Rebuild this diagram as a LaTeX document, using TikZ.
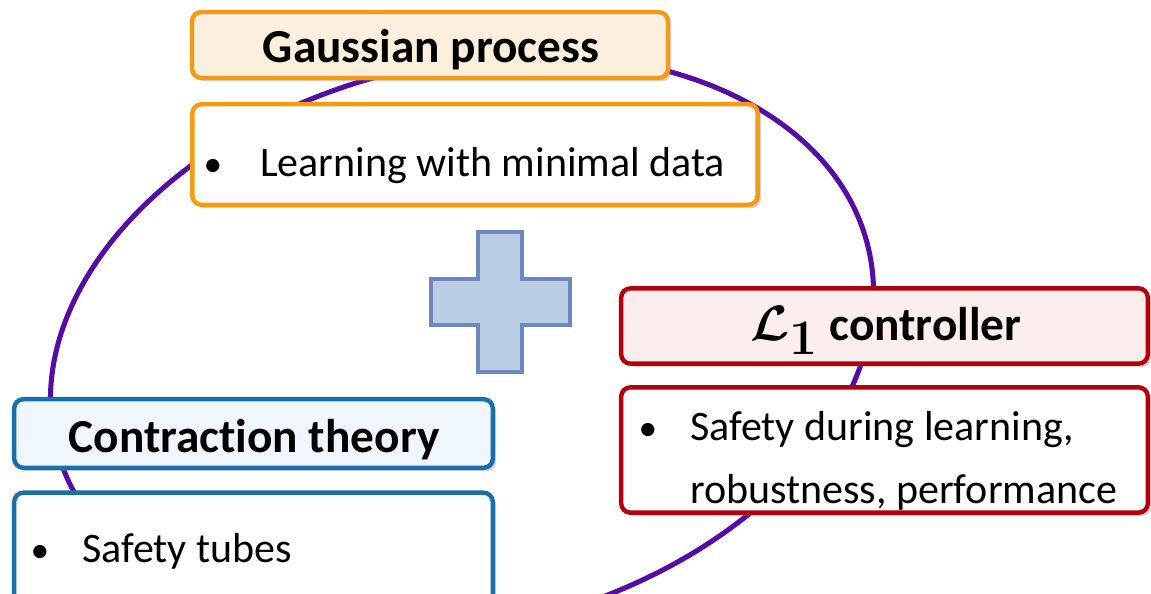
\documentclass[tikz,border=0pt]{standalone}
\usepackage{fontspec}
\setmainfont{Carlito}[Ligatures=NoCommon]
\usetikzlibrary{shadows}
\definecolor{ellc}{RGB}{84,12,164}
\definecolor{gporange}{RGB}{246,154,18}
\definecolor{gpfill}{RGB}{253,239,222}
\definecolor{lred}{RGB}{180,0,10}
\definecolor{lfill}{RGB}{253,238,238}
\definecolor{cblue}{RGB}{25,110,172}
\definecolor{cfill}{RGB}{240,246,253}
\definecolor{plusfill}{RGB}{185,205,229}
\definecolor{plusdraw}{RGB}{111,135,192}
\tikzset{
  box/.style={draw, line width=3.3pt, rounded corners=7pt, inner sep=0pt,
    drop shadow={shadow xshift=2.5pt, shadow yshift=-2.5pt, opacity=0.35}},
  titletext/.style={inner sep=0pt, anchor=base, font=\fontsize{35.5}{40}\selectfont\bfseries},
  bodytext/.style={inner sep=0pt, anchor=base west, font=\fontsize{31.5}{36}\selectfont},
  bul/.style={inner sep=0pt, anchor=base, font=\fontsize{28}{32}\selectfont}
}
\begin{document}
\begin{tikzpicture}[x=0.75pt,y=-0.75pt]
\useasboundingbox (0,0) rectangle (1151,593);
\clip (0,0) rectangle (1151,593);
% cycle ellipse
\draw[ellc, line width=3.8pt, rotate around={13.8:(462,346)}] (462,346) ellipse [x radius=418, y radius=282];
% plus sign
\draw[plusdraw, fill=plusfill, line width=3.6pt]
  (478,232) -- (522,232) -- (522,279) -- (570,279) -- (570,325) -- (522,325)
  -- (522,372) -- (478,372) -- (478,325) -- (431,325) -- (431,279) -- (478,279) -- cycle;
% Gaussian process
\node[box, draw=gporange, fill=gpfill, minimum width=357pt, minimum height=49.5pt] (gpbox) at (430,45) {};
\node[box, draw=gporange, fill=white, minimum width=424pt, minimum height=75.5pt] (gpbody) at (475,154.5) {};
\node[titletext] (gpt) at (431,62) {Gaussian process};
\node[bul] (gpbul) at (213,176) {\textbullet};
\node[bodytext] (gpb) at (260,176) {Learning with minimal data};
% L1 controller
\node[box, draw=lred, fill=lfill, minimum width=395pt, minimum height=56.5pt] (lbox) at (884.5,326) {};
\node[box, draw=lred, fill=white, minimum width=395pt, minimum height=94pt] (lbody) at (884.5,450) {};
\node[titletext] (lt) at (886,340) {\scalebox{1.5}{\boldmath$\mathcal{L}_1$} controller};
\node[bul] (lbul) at (648,440) {\textbullet};
\node[bodytext] (lb1) at (690,440) {Safety during learning,};
\node[bodytext] (lb2) at (690,503) {robustness, performance};
% Contraction theory
\node[box, draw=cblue, fill=cfill, minimum width=359pt, minimum height=51.5pt] (cbox) at (253.5,433.5) {};
\node[box, draw=cblue, fill=white, minimum width=359pt, minimum height=95pt] (cbody) at (253.5,556) {};
\node[titletext] (ct) at (254,452) {Contraction theory};
\node[bul] (cbul) at (40,562) {\textbullet};
\node[bodytext] (cb) at (82,562) {Safety tubes};
\end{tikzpicture}
\end{document}
